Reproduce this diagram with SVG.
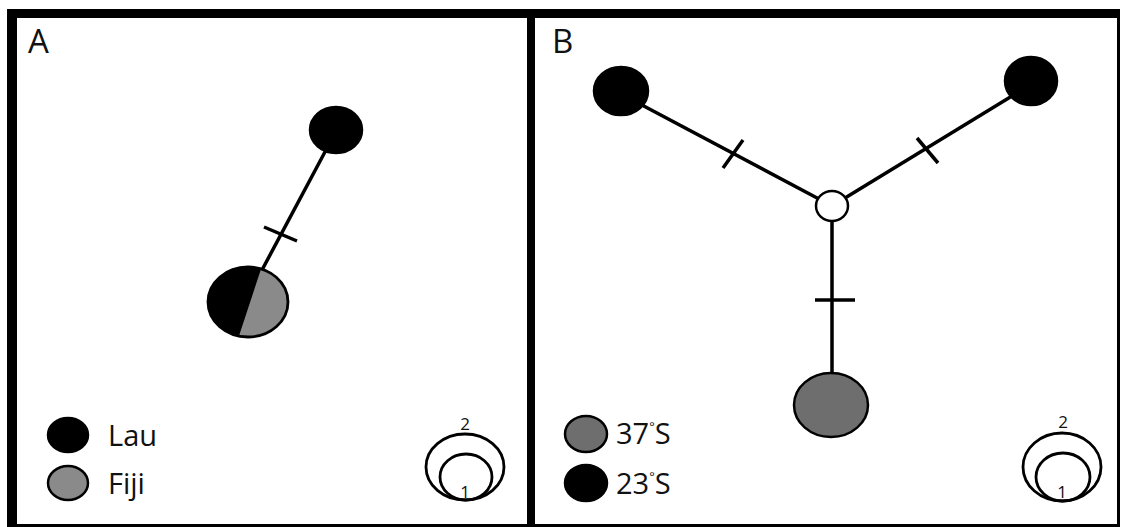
<svg xmlns="http://www.w3.org/2000/svg" width="1121" height="527" viewBox="0 0 1121 527">
  <style>
    .edge { stroke: #000; stroke-width: 3.5; fill: none; }
    .tick { stroke: #000; stroke-width: 3.5; }
    .node { stroke: #000; stroke-width: 2.5; }
    .black { fill: #000; }
    .grey { fill: #8a8a8a; }
    .dgrey { fill: #6e6e6e; }
    .white { fill: #fff; }
    .ring { fill: none; stroke: #000; stroke-width: 2.8; }
    .label { font-family: "Open Sans", "Liberation Sans", sans-serif; fill: #111; }
    .panel { font-size: 33px; }
    .leg { font-size: 29px; }
    .scale { font-size: 17px; text-anchor: middle; }
  </style>
  <defs>
    <clipPath id="fijiClip">
      <ellipse cx="248" cy="302" rx="40" ry="35"/>
    </clipPath>
  </defs>

  <!-- background and frame -->
  <rect x="0" y="0" width="1121" height="527" fill="#fff"/>
  <g id="frame" fill="#000">
    <rect x="7" y="9" width="10" height="518"/>
    <rect x="7" y="9" width="1113" height="9"/>
    <rect x="1117" y="9" width="3" height="518"/>
    <rect x="7" y="524" width="1113" height="3"/>
    <rect x="527" y="9" width="8" height="518"/>
  </g>

  <!-- panel labels -->
  <text class="label panel" x="28" y="53">A</text>
  <text class="label panel" x="552" y="53">B</text>

  <!-- connectors -->
  <g id="connectors">
    <line class="edge" x1="326" y1="150" x2="262" y2="270"/>
    <line class="tick" x1="264" y1="227" x2="297" y2="241"/>
    <line class="edge" x1="640" y1="104" x2="819" y2="199"/>
    <line class="tick" x1="723" y1="168" x2="743" y2="140"/>
    <line class="edge" x1="845" y1="198" x2="1012" y2="96"/>
    <line class="tick" x1="917" y1="138" x2="938" y2="163"/>
    <line class="edge" x1="832" y1="221" x2="832" y2="374"/>
    <line class="tick" x1="815" y1="300" x2="855" y2="300"/>
  </g>

  <!-- panel A nodes -->
  <g id="nodeA-lau">
    <ellipse class="node black" cx="336" cy="130" rx="26" ry="23"/>
  </g>
  <g id="nodeA-mixed">
    <g clip-path="url(#fijiClip)">
      <rect class="grey" x="200" y="260" width="100" height="90"/>
      <polygon class="black" points="200,260 264,260 236,345 200,345"/>
    </g>
    <ellipse class="ring" cx="248" cy="302" rx="40" ry="35"/>
  </g>

  <!-- panel B nodes -->
  <g id="nodeB-left">
    <ellipse class="node black" cx="621" cy="91" rx="27" ry="24"/>
  </g>
  <g id="nodeB-right">
    <ellipse class="node black" cx="1031" cy="81" rx="26" ry="24"/>
  </g>
  <g id="nodeB-hub">
    <ellipse class="node white" cx="832" cy="206" rx="16" ry="15"/>
  </g>
  <g id="nodeB-bottom">
    <ellipse class="node dgrey" cx="831" cy="405" rx="37" ry="32"/>
  </g>

  <!-- legend A -->
  <g id="legendA">
    <ellipse class="node black" cx="68" cy="435" rx="20" ry="17"/>
    <text class="label leg" x="108" y="446">Lau</text>
    <ellipse class="node grey" cx="68" cy="483" rx="20" ry="17"/>
    <text class="label leg" x="108" y="494">Fiji</text>
  </g>
  <g id="scaleA">
    <ellipse class="ring" cx="465" cy="467" rx="39" ry="33"/>
    <ellipse class="ring" cx="466" cy="477" rx="26" ry="23"/>
    <text class="label scale" x="465" y="430" font-size="13">2</text>
    <text class="label scale" x="465" y="498">1</text>
  </g>

  <!-- legend B -->
  <g id="legendB">
    <ellipse class="node dgrey" cx="586" cy="434" rx="21" ry="18"/>
    <text class="label leg" x="616" y="444">37<tspan font-size="13" dy="-13">°</tspan><tspan dy="13">S</tspan></text>
    <ellipse class="node black" cx="586" cy="483" rx="21" ry="18"/>
    <text class="label leg" x="616" y="494">23<tspan font-size="13" dy="-13">°</tspan><tspan dy="13">S</tspan></text>
  </g>
  <g id="scaleB">
    <ellipse class="ring" cx="1062" cy="467" rx="39" ry="34"/>
    <ellipse class="ring" cx="1063" cy="477" rx="27" ry="24"/>
    <text class="label scale" x="1063" y="428" font-size="13">2</text>
    <text class="label scale" x="1062" y="498">1</text>
  </g>
</svg>
